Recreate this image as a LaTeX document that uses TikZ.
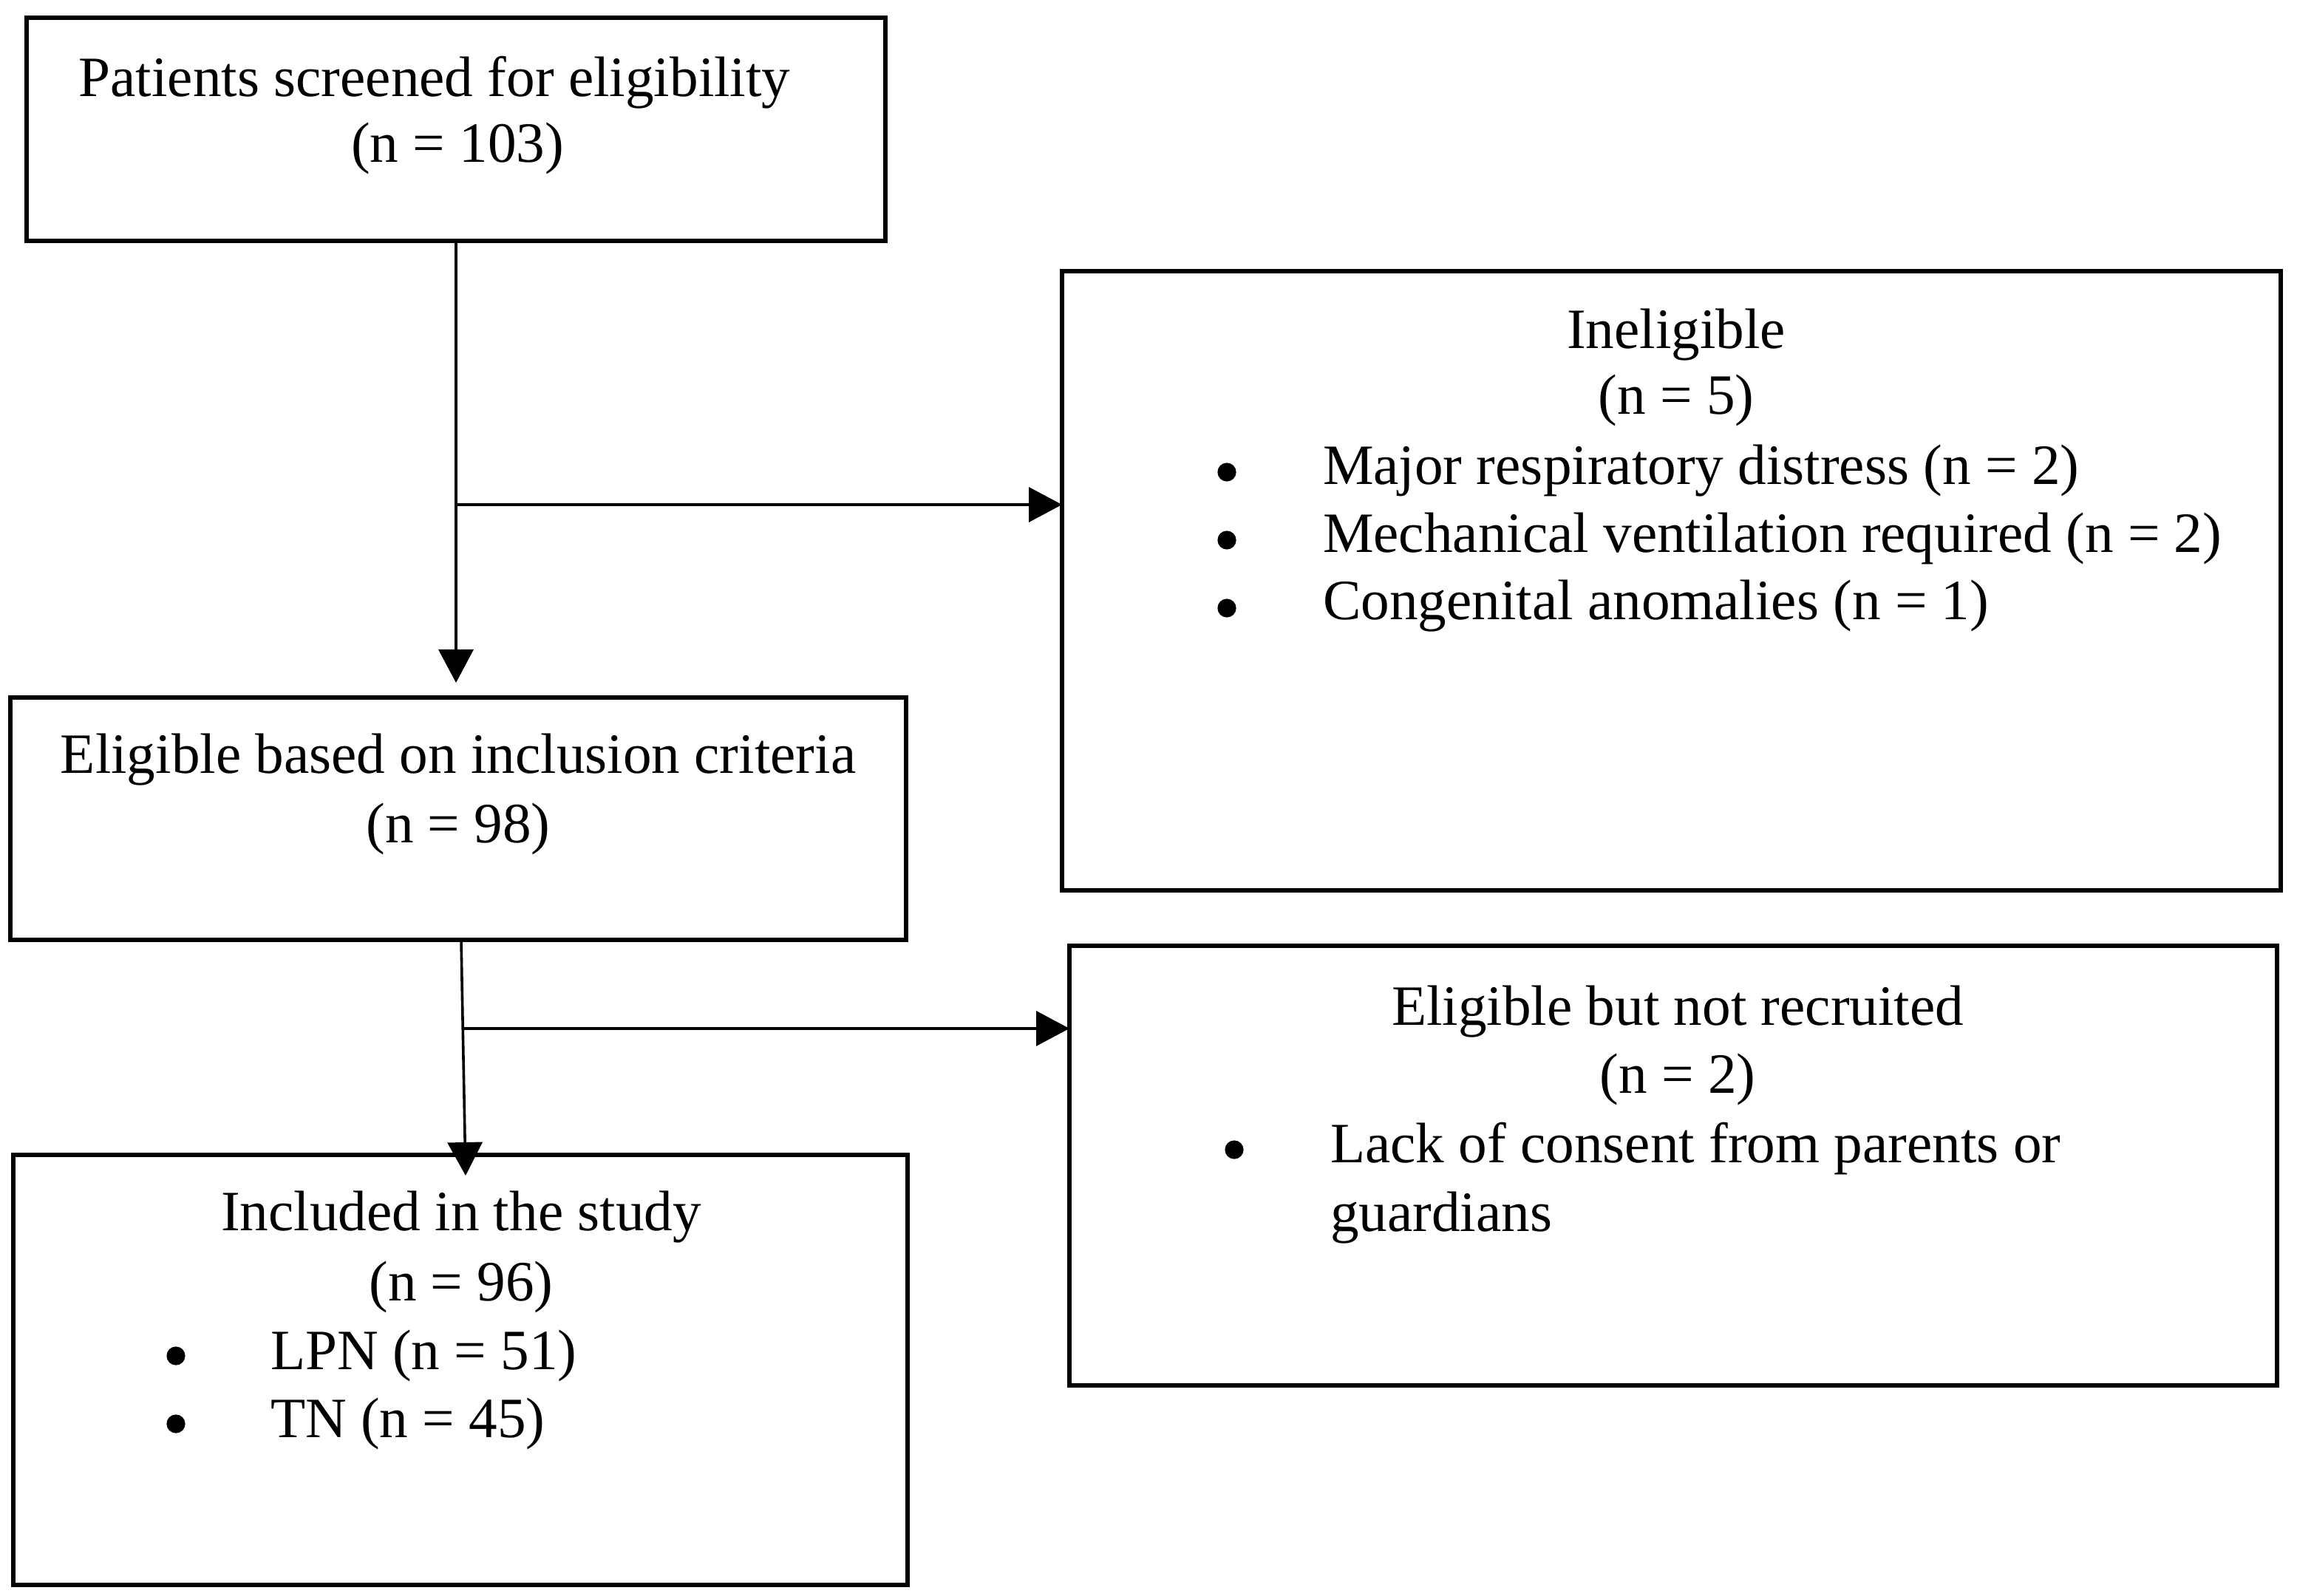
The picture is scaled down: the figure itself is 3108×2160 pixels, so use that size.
\documentclass[tikz,border=0pt]{standalone}
\usepackage{fontspec}
\setmainfont{Liberation Serif}
\usetikzlibrary{arrows.meta,calc}
\begin{document}
\begin{tikzpicture}[x=0.25pt,y=-0.25pt,
  box/.style={draw=black,line width=1.5pt,rectangle,inner sep=0pt,outer sep=0pt},
  txt/.style={inner sep=0pt,outer sep=0pt,font=\fontsize{19.3}{22}\selectfont},
  ctr/.style={txt,anchor=base},
  lft/.style={txt,anchor=base west},
  bul/.style={circle,fill=black,draw=none,inner sep=0pt,minimum size=6.3pt},
  arr/.style={line width=0.9pt,-{Triangle[length=11.25pt,width=11.75pt]}}]
\useasboundingbox[fill=white] (0,0) rectangle (3108,2160);

% boxes
\node[box,minimum width=290.5pt,minimum height=75.5pt] (b1) at (617,175) {};
\node[box,minimum width=303pt,minimum height=82pt] (b2) at (620,1108) {};
\node[box,minimum width=302.5pt,minimum height=145.5pt] (b3) at (623,1854) {};
\node[box,minimum width=412.25pt,minimum height=209.5pt] (inel) at (2261.5,786) {};
\node[box,minimum width=408.5pt,minimum height=148.75pt] (nr) at (2264,1577.5) {};

% texts box 1
\node[ctr] (t1a) at (588,131) {Patients screened for eligibility};
\node[ctr] (t1b) at (619,220) {(n = 103)};
% box 2
\node[ctr] (t2a) at (620,1047) {Eligible based on inclusion criteria};
\node[ctr] (t2b) at (620,1141) {(n = 98)};
% box 3
\node[ctr] (t3a) at (624,1665) {Included in the study};
\node[ctr] (t3b) at (624,1760) {(n = 96)};
\node[lft] (t3c) at (366,1853) {LPN (n = 51)};
\node[lft] (t3d) at (366,1945) {TN (n = 45)};
\node[bul] (b3c) at (238,1835) {};
\node[bul] (b3d) at (238,1927) {};
% ineligible
\node[ctr] (tia) at (2268,472) {Ineligible};
\node[ctr] (tib) at (2268,561) {(n = 5)};
\node[lft] (tic) at (1790,656) {Major respiratory distress (n = 2)};
\node[lft] (tid) at (1790,748) {Mechanical ventilation required (n = 2)};
\node[lft] (tie) at (1790,839) {Congenital anomalies (n = 1)};
\node[bul] (bic) at (1660,639) {};
\node[bul] (bid) at (1660,731) {};
\node[bul] (bie) at (1660,823) {};
% not recruited
\node[ctr] (tna) at (2270,1387) {Eligible but not recruited};
\node[ctr] (tnb) at (2270,1480) {(n = 2)};
\node[lft] (tnc) at (1800,1573) {Lack of consent from parents or};
\node[lft] (tnd) at (1800,1666) {guardians};
\node[bul] (bnc) at (1670,1556) {};

% connectors
\draw[arr,shorten >=5pt] (b1.south) -- (b1.south |- b2.north);
\path (b1.south) ++(0,357) coordinate (j1);
\draw[arr] (j1) -- (j1 -| inel.west);

\coordinate (a2s) at ([xshift=1pt]b2.south);
\coordinate (a2e) at ([xshift=1.75pt,yshift=-7pt]b3.north);
\draw[arr] (a2s) -- (a2e);
\coordinate (j2) at ($(a2s)!0.376!(a2e)$);
\draw[arr] (j2) -- (j2 -| nr.west);
\end{tikzpicture}
\end{document}
